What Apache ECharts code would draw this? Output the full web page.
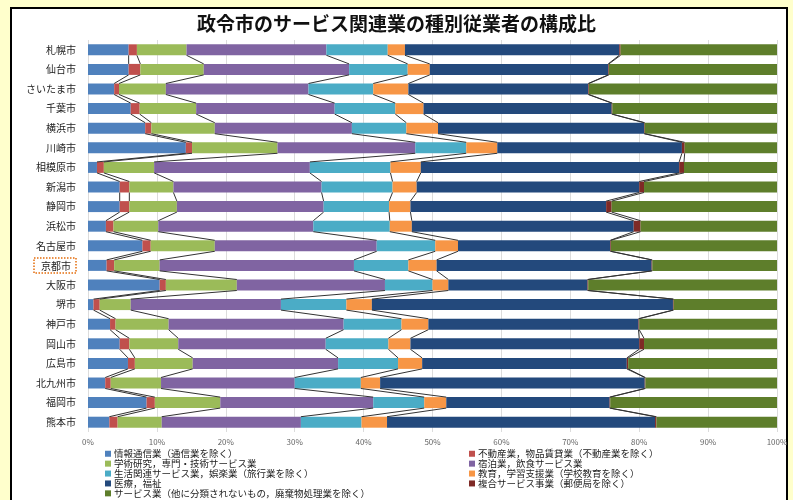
<!DOCTYPE html>
<html>
<head>
<meta charset="utf-8">
<script src="https://cdn.jsdelivr.net/npm/echarts@6/dist/echarts.min.js"></script>
<style>
    html, body { margin: 0; padding: 0; background: #FFFFCC; }
    #main { width: 793px; height: 500px; }
</style>
</head>
<body>
<div id="main"></div>
<script>
// 政令市（上から順に）
var cities = ['札幌市','仙台市','さいたま市','千葉市','横浜市','川崎市','相模原市','新潟市','静岡市','浜松市',
    '名古屋市','京都市','大阪市','堺市','神戸市','岡山市','広島市','北九州市','福岡市','熊本市'];

var seriesNames = ['情報通信業（通信業を除く）','不動産業，物品賃貸業（不動産業を除く）','学術研究，専門・技術サービス業',
    '宿泊業，飲食サービス業','生活関連サービス業，娯楽業（旅行業を除く）','教育，学習支援業（学校教育を除く）',
    '医療，福祉','複合サービス事業（郵便局を除く）','サービス業（他に分類されないもの，廃棄物処理業を除く）'];

// 構成比（％）
var joho     = [5.9, 5.9, 3.8, 6.2, 8.3, 14.2, 1.3, 4.6, 4.6, 2.6, 7.9, 2.7, 10.4, 0.8, 3.2, 4.6, 5.8, 2.5, 8.5, 3.1];
var fudosan  = [1.2, 1.7, 0.7, 1.3, 0.9, 0.9, 1.0, 1.4, 1.4, 1.1, 1.2, 1.1, 0.9, 0.9, 0.8, 1.4, 1.0, 0.8, 1.2, 1.2];
var gakujutsu= [7.2, 9.2, 6.8, 8.2, 9.2, 12.4, 7.3, 6.4, 6.9, 6.5, 9.3, 6.6, 10.3, 4.5, 7.7, 7.1, 8.4, 7.3, 9.5, 6.4];
var shukuhaku= [20.3, 21.1, 20.7, 20.1, 19.9, 20.0, 22.6, 21.5, 21.3, 22.5, 23.5, 28.2, 21.5, 21.8, 25.4, 21.4, 21.1, 19.4, 22.2, 20.2];
var seikatsu = [8.9, 8.5, 9.4, 8.8, 7.9, 7.4, 11.7, 10.3, 9.5, 11.1, 8.5, 7.9, 6.9, 9.5, 8.4, 9.1, 8.7, 9.6, 7.4, 8.8];
var kyoiku   = [2.5, 3.2, 5.1, 4.1, 4.6, 4.5, 4.4, 3.5, 3.1, 3.2, 3.3, 4.1, 2.3, 3.7, 3.9, 3.2, 3.5, 2.8, 3.2, 3.7];
var iryo     = [31.1, 25.9, 26.1, 27.3, 29.9, 26.8, 37.5, 32.3, 28.4, 32.2, 22.1, 31.2, 20.2, 43.7, 30.5, 33.2, 29.7, 38.4, 23.7, 38.9];
var fukugo   = [0.2, 0.1, 0.1, 0.1, 0.1, 0.4, 0.7, 0.7, 0.8, 1.0, 0.1, 0.1, 0.1, 0.1, 0.1, 0.7, 0.2, 0.1, 0.1, 0.2];
var service  = [22.7, 24.4, 27.3, 23.9, 19.2, 13.4, 13.5, 19.3, 24.0, 19.8, 24.1, 18.1, 27.4, 15.0, 20.0, 19.3, 21.6, 19.1, 24.2, 17.5];

var tickValues = [0, 10, 20, 30, 40, 50, 60, 70, 80, 90, 100];

var colors = ['#4F81BD','#C0504D','#9BBB59','#8064A2','#4BACC6','#F79646','#23497C','#7F2A26','#5E7E2B'];

var allData = [joho, fudosan, gakujutsu, shukuhaku, seikatsu, kyoiku, iryo, fukugo, service];
var FONT = '"Noto Sans CJK JP", sans-serif';
var BAR_RATE = 0.56;

var myChart = echarts.init(document.getElementById('main'));

// 区分線用：各都市の累積値
var cum = [];
for (var i = 0; i < cities.length; i++) {
    var row = [];
    var s = 0;
    for (var k = 0; k < allData.length - 1; k++) {
        s += allData[k][i];
        row.push(s);
    }
    cum.push(row);
}
var lineData = [];
for (var i = 0; i < cities.length - 1; i++) {
    lineData.push([i].concat(cum[i]).concat(cum[i + 1]));
}
var nb = allData.length - 1;
var xDims = [];
for (var d = 1; d <= nb * 2; d++) xDims.push(d);

var series = [];
for (var k = 0; k < allData.length; k++) {
    series.push({
        name: seriesNames[k],
        type: 'bar',
        stack: 'total',
        barWidth: (BAR_RATE * 100) + '%',
        itemStyle: {color: colors[k]},
        data: allData[k]
    });
}
series.push({
    type: 'custom',
    silent: true,
    z: 5,
    encode: {x: xDims, y: 0},
    renderItem: function (params, api) {
        var idx = api.value(0);
        var half = api.size([0, 1])[1] * BAR_RATE / 2;
        var children = [];
        for (var k = 0; k < nb; k++) {
            var p1 = api.coord([api.value(1 + k), idx]);
            var p2 = api.coord([api.value(1 + nb + k), idx + 1]);
            children.push({
                type: 'line',
                shape: {x1: p1[0], y1: p1[1] + half, x2: p2[0], y2: p2[1] - half},
                style: {stroke: '#333', lineWidth: 1}
            });
        }
        return {type: 'group', children: children};
    },
    data: lineData
});

var legendStyle = {
    orient: 'vertical',
    itemWidth: 6,
    itemHeight: 6,
    itemGap: 0.4,
    icon: 'rect',
    padding: 0,
    height: 60,
    textStyle: {fontFamily: FONT, fontSize: 9.5, color: '#222', lineHeight: 9, padding: [0, 0, 0, -2]}
};

option = {
    backgroundColor: 'transparent',
    animation: false,
    color: colors,
    title: {
        text: '政令市のサービス関連業の種別従業者の構成比',
        left: 'center',
        top: 9,
        textStyle: {fontFamily: FONT, fontSize: 19, fontWeight: 'bold', color: '#111'}
    },
    graphic: [{
        type: 'rect',
        z: -10,
        shape: {x: 11, y: 8, width: 776, height: 496},
        style: {fill: '#fff', stroke: '#000', lineWidth: 2}
    }],
    legend: [
        echarts.util.merge({left: 105, top: 449, data: [seriesNames[0], seriesNames[2], seriesNames[4], seriesNames[6], seriesNames[8]]}, legendStyle),
        echarts.util.merge({left: 469, top: 449, data: [seriesNames[1], seriesNames[3], seriesNames[5], seriesNames[7]]}, legendStyle)
    ],
    grid: {left: 88, right: 16, top: 40, bottom: 68, containLabel: false},
    xAxis: {
        type: 'value',
        min: tickValues[0],
        max: tickValues[tickValues.length - 1],
        interval: 10,
        axisLine: {show: false},
        axisTick: {show: false},
        splitLine: {show: true, lineStyle: {color: '#DCDCDC', width: 1}},
        axisLabel: {
            formatter: '{value}%',
            fontFamily: FONT,
            fontSize: 8,
            color: '#666',
            margin: 6
        }
    },
    yAxis: {
        type: 'category',
        inverse: true,
        data: cities,
        axisLine: {show: false},
        axisTick: {show: false},
        axisLabel: {
            fontFamily: FONT,
            fontSize: 10,
            color: '#222',
            margin: 12,
            formatter: function (v) {
                return v == '京都市' ? '{kyoto|' + v + '}' : v;
            },
            rich: {
                kyoto: {
                    fontFamily: FONT,
                    fontSize: 10,
                    color: '#222',
                    borderColor: '#E46C0A',
                    borderWidth: 1.5,
                    borderType: 'dotted',
                    padding: [3, 5, 2, 7]
                }
            }
        }
    },
    series: series
};
myChart.setOption(option);
</script>
</body>
</html>
